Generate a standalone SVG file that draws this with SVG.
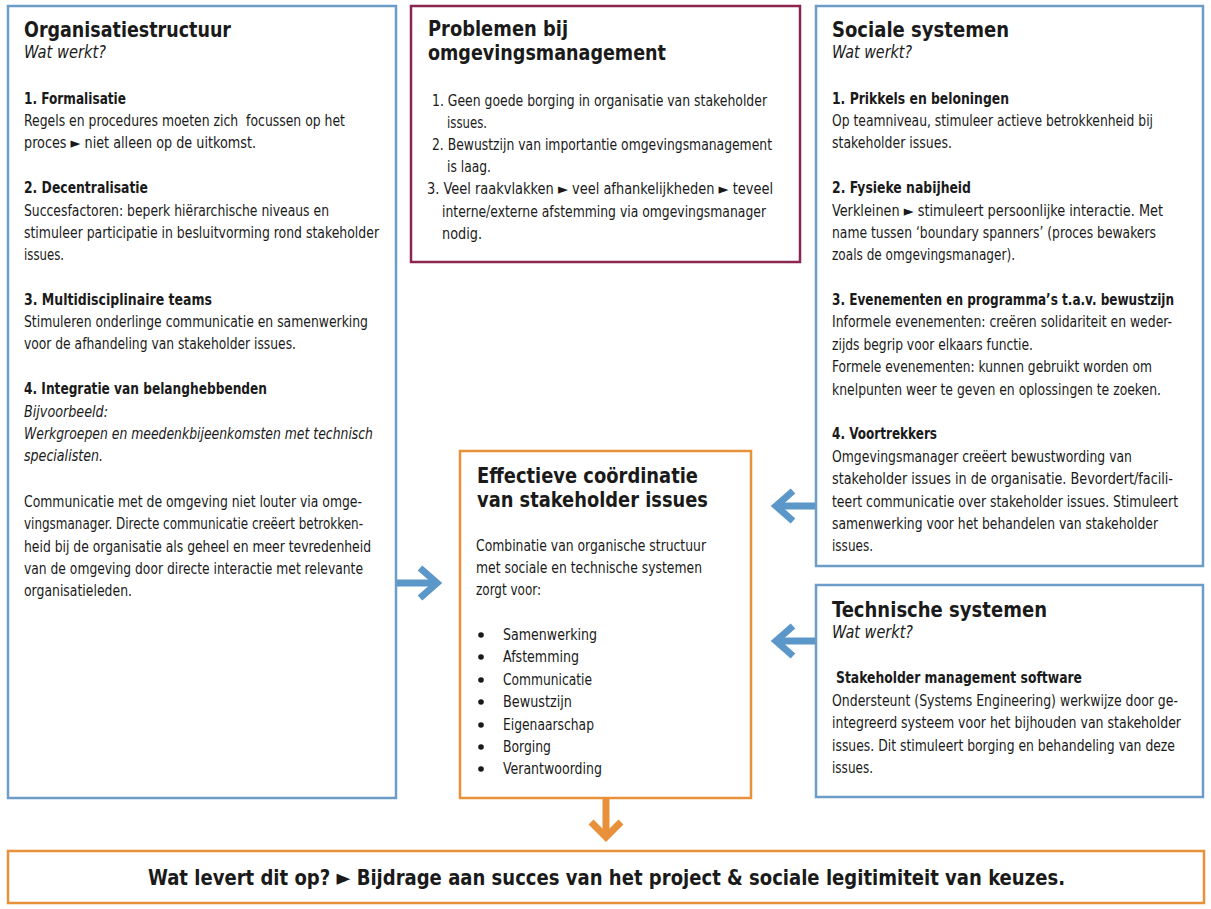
<svg xmlns="http://www.w3.org/2000/svg" width="1211" height="909" viewBox="0 0 1211 909">
<style>
text{font-family:"DejaVu Sans Condensed","Liberation Sans",Arial,sans-serif;fill:#1a1a1a;}
.t{font-size:22px;font-weight:bold;}
.s{font-size:17px;font-style:italic;}
.h{font-size:15px;font-weight:bold;}
.b{font-size:15px;}
.i{font-size:15px;font-style:italic;}
.bb{font-size:22px;font-weight:bold;}
.blue{fill:#fff;stroke:#6b9dc8;stroke-width:2.5;}
.red{fill:#fff;stroke:#8c2550;stroke-width:2.5;}
.org{fill:#fff;stroke:#e8913a;stroke-width:2.5;}
.ab{fill:none;stroke:#5b97c8;stroke-width:7;}
.ao{fill:none;stroke:#e8913a;stroke-width:7;}
</style>
<rect width="1211" height="909" fill="#fff"/>
<g id="connectors">
<path class="ab" d="M397 583H436"/>
<path class="ab" d="M420 568L437 583L420 598"/>
<path class="ab" d="M816 506H777"/>
<path class="ab" d="M793 491L776 506L793 521"/>
<path class="ab" d="M816 641H777"/>
<path class="ab" d="M793 626L776 641L793 656"/>
<path class="ao" d="M606 798V836"/>
<path class="ao" d="M591 822L606 837L621 822"/>
</g>
<g id="organisatiestructuur">
<rect class="blue" x="8" y="6" width="388" height="792"/>
<text class="t" x="24" y="37" textLength="207" lengthAdjust="spacingAndGlyphs">Organisatiestructuur</text>
<text class="s" x="24" y="58" textLength="82" lengthAdjust="spacingAndGlyphs">Wat werkt?</text>
<text class="h" x="24" y="104" textLength="102" lengthAdjust="spacingAndGlyphs">1. Formalisatie</text>
<text class="b" x="24" y="126" textLength="321" lengthAdjust="spacingAndGlyphs" xml:space="preserve">Regels en procedures moeten zich  focussen op het</text>
<text class="b" x="24" y="148" textLength="232" lengthAdjust="spacingAndGlyphs">proces ► niet alleen op de uitkomst.</text>
<text class="h" x="24" y="193" textLength="124" lengthAdjust="spacingAndGlyphs">2. Decentralisatie</text>
<text class="b" x="24" y="216" textLength="305" lengthAdjust="spacingAndGlyphs">Succesfactoren: beperk hiërarchische niveaus en</text>
<text class="b" x="24" y="238" textLength="355" lengthAdjust="spacingAndGlyphs">stimuleer participatie in besluitvorming rond stakeholder</text>
<text class="b" x="24" y="260" textLength="40" lengthAdjust="spacingAndGlyphs">issues.</text>
<text class="h" x="24" y="305" textLength="188" lengthAdjust="spacingAndGlyphs">3. Multidisciplinaire teams</text>
<text class="b" x="24" y="327" textLength="344" lengthAdjust="spacingAndGlyphs">Stimuleren onderlinge communicatie en samenwerking</text>
<text class="b" x="24" y="349" textLength="272" lengthAdjust="spacingAndGlyphs">voor de afhandeling van stakeholder issues.</text>
<text class="h" x="24" y="394" textLength="243" lengthAdjust="spacingAndGlyphs">4. Integratie van belanghebbenden</text>
<text class="i" x="24" y="417" textLength="84" lengthAdjust="spacingAndGlyphs">Bijvoorbeeld:</text>
<text class="i" x="24" y="439" textLength="349" lengthAdjust="spacingAndGlyphs">Werkgroepen en meedenkbijeenkomsten met technisch</text>
<text class="i" x="24" y="461" textLength="79" lengthAdjust="spacingAndGlyphs">specialisten.</text>
<text class="b" x="24" y="507" textLength="338" lengthAdjust="spacingAndGlyphs">Communicatie met de omgeving niet louter via omge-</text>
<text class="b" x="24" y="529" textLength="339" lengthAdjust="spacingAndGlyphs">vingsmanager. Directe communicatie creëert betrokken-</text>
<text class="b" x="24" y="552" textLength="347" lengthAdjust="spacingAndGlyphs">heid bij de organisatie als geheel en meer tevredenheid</text>
<text class="b" x="24" y="574" textLength="339" lengthAdjust="spacingAndGlyphs">van de omgeving door directe interactie met relevante</text>
<text class="b" x="24" y="596" textLength="108" lengthAdjust="spacingAndGlyphs">organisatieleden.</text>
</g>
<g id="problemen">
<rect class="red" x="411" y="6" width="389" height="256"/>
<text class="t" x="428" y="36" textLength="140" lengthAdjust="spacingAndGlyphs">Problemen bij</text>
<text class="t" x="428" y="60" textLength="238" lengthAdjust="spacingAndGlyphs">omgevingsmanagement</text>
<text class="b" x="432" y="106" textLength="335" lengthAdjust="spacingAndGlyphs">1. Geen goede borging in organisatie van stakeholder</text>
<text class="b" x="447" y="128" textLength="40" lengthAdjust="spacingAndGlyphs">issues.</text>
<text class="b" x="432" y="150" textLength="340" lengthAdjust="spacingAndGlyphs">2. Bewustzijn van importantie omgevingsmanagement</text>
<text class="b" x="447" y="172" textLength="44" lengthAdjust="spacingAndGlyphs">is laag.</text>
<text class="b" x="427" y="194" textLength="346" lengthAdjust="spacingAndGlyphs">3. Veel raakvlakken ► veel afhankelijkheden ► teveel</text>
<text class="b" x="442" y="217" textLength="324" lengthAdjust="spacingAndGlyphs">interne/externe afstemming via omgevingsmanager</text>
<text class="b" x="442" y="239" textLength="40" lengthAdjust="spacingAndGlyphs">nodig.</text>
</g>
<g id="sociale-systemen">
<rect class="blue" x="816" y="6" width="387" height="560"/>
<text class="t" x="832" y="37" textLength="177" lengthAdjust="spacingAndGlyphs">Sociale systemen</text>
<text class="s" x="832" y="58" textLength="80" lengthAdjust="spacingAndGlyphs">Wat werkt?</text>
<text class="h" x="832" y="104" textLength="177" lengthAdjust="spacingAndGlyphs">1. Prikkels en beloningen</text>
<text class="b" x="832" y="126" textLength="321" lengthAdjust="spacingAndGlyphs">Op teamniveau, stimuleer actieve betrokkenheid bij</text>
<text class="b" x="832" y="148" textLength="120" lengthAdjust="spacingAndGlyphs">stakeholder issues.</text>
<text class="h" x="832" y="193" textLength="139" lengthAdjust="spacingAndGlyphs">2. Fysieke nabijheid</text>
<text class="b" x="832" y="216" textLength="331" lengthAdjust="spacingAndGlyphs">Verkleinen ► stimuleert persoonlijke interactie. Met</text>
<text class="b" x="832" y="238" textLength="324" lengthAdjust="spacingAndGlyphs">name tussen ‘boundary spanners’ (proces bewakers</text>
<text class="b" x="832" y="260" textLength="183" lengthAdjust="spacingAndGlyphs">zoals de omgevingsmanager).</text>
<text class="h" x="832" y="305" textLength="342" lengthAdjust="spacingAndGlyphs">3. Evenementen en programma’s t.a.v. bewustzijn</text>
<text class="b" x="832" y="327" textLength="340" lengthAdjust="spacingAndGlyphs">Informele evenementen: creëren solidariteit en weder-</text>
<text class="b" x="832" y="350" textLength="201" lengthAdjust="spacingAndGlyphs">zijds begrip voor elkaars functie.</text>
<text class="b" x="832" y="372" textLength="320" lengthAdjust="spacingAndGlyphs">Formele evenementen: kunnen gebruikt worden om</text>
<text class="b" x="832" y="395" textLength="329" lengthAdjust="spacingAndGlyphs">knelpunten weer te geven en oplossingen te zoeken.</text>
<text class="h" x="832" y="439" textLength="105" lengthAdjust="spacingAndGlyphs">4. Voortrekkers</text>
<text class="b" x="832" y="462" textLength="300" lengthAdjust="spacingAndGlyphs">Omgevingsmanager creëert bewustwording van</text>
<text class="b" x="832" y="484" textLength="341" lengthAdjust="spacingAndGlyphs">stakeholder issues in de organisatie. Bevordert/facili-</text>
<text class="b" x="832" y="507" textLength="346" lengthAdjust="spacingAndGlyphs">teert communicatie over stakeholder issues. Stimuleert</text>
<text class="b" x="832" y="529" textLength="326" lengthAdjust="spacingAndGlyphs">samenwerking voor het behandelen van stakeholder</text>
<text class="b" x="832" y="551" textLength="41" lengthAdjust="spacingAndGlyphs">issues.</text>
</g>
<g id="technische-systemen">
<rect class="blue" x="816" y="585" width="387" height="212"/>
<text class="t" x="832" y="617" textLength="215" lengthAdjust="spacingAndGlyphs">Technische systemen</text>
<text class="s" x="832" y="638" textLength="81" lengthAdjust="spacingAndGlyphs">Wat werkt?</text>
<text class="h" x="836" y="683" textLength="246" lengthAdjust="spacingAndGlyphs">Stakeholder management software</text>
<text class="b" x="832" y="706" textLength="346" lengthAdjust="spacingAndGlyphs">Ondersteunt (Systems Engineering) werkwijze door ge-</text>
<text class="b" x="832" y="728" textLength="349" lengthAdjust="spacingAndGlyphs">integreerd systeem voor het bijhouden van stakeholder</text>
<text class="b" x="832" y="751" textLength="343" lengthAdjust="spacingAndGlyphs">issues. Dit stimuleert borging en behandeling van deze</text>
<text class="b" x="832" y="773" textLength="41" lengthAdjust="spacingAndGlyphs">issues.</text>
</g>
<g id="effectieve-coordinatie">
<rect class="org" x="460" y="451" width="291" height="347"/>
<text class="t" x="477" y="483" textLength="221" lengthAdjust="spacingAndGlyphs">Effectieve coördinatie</text>
<text class="t" x="477" y="507" textLength="231" lengthAdjust="spacingAndGlyphs">van stakeholder issues</text>
<text class="b" x="476" y="551" textLength="230" lengthAdjust="spacingAndGlyphs">Combinatie van organische structuur</text>
<text class="b" x="476" y="573" textLength="226" lengthAdjust="spacingAndGlyphs">met sociale en technische systemen</text>
<text class="b" x="476" y="595" textLength="65" lengthAdjust="spacingAndGlyphs">zorgt voor:</text>
<g fill="#1a1a1a">
<circle cx="481" cy="635" r="2.8"/>
<circle cx="481" cy="657" r="2.8"/>
<circle cx="481" cy="680" r="2.8"/>
<circle cx="481" cy="702" r="2.8"/>
<circle cx="481" cy="725" r="2.8"/>
<circle cx="481" cy="747" r="2.8"/>
<circle cx="481" cy="769" r="2.8"/>
</g>
<text class="b" x="503" y="640" textLength="94" lengthAdjust="spacingAndGlyphs">Samenwerking</text>
<text class="b" x="503" y="662" textLength="76" lengthAdjust="spacingAndGlyphs">Afstemming</text>
<text class="b" x="503" y="685" textLength="89" lengthAdjust="spacingAndGlyphs">Communicatie</text>
<text class="b" x="503" y="707" textLength="69" lengthAdjust="spacingAndGlyphs">Bewustzijn</text>
<text class="b" x="503" y="730" textLength="91" lengthAdjust="spacingAndGlyphs">Eigenaarschap</text>
<text class="b" x="503" y="752" textLength="48" lengthAdjust="spacingAndGlyphs">Borging</text>
<text class="b" x="503" y="774" textLength="99" lengthAdjust="spacingAndGlyphs">Verantwoording</text>
</g>
<g id="resultaat">
<rect class="org" x="8" y="851" width="1196" height="52"/>
<text class="bb" x="148" y="885" textLength="917" lengthAdjust="spacingAndGlyphs">Wat levert dit op? ► Bijdrage aan succes van het project &amp; sociale legitimiteit van keuzes.</text>
</g>
</svg>
